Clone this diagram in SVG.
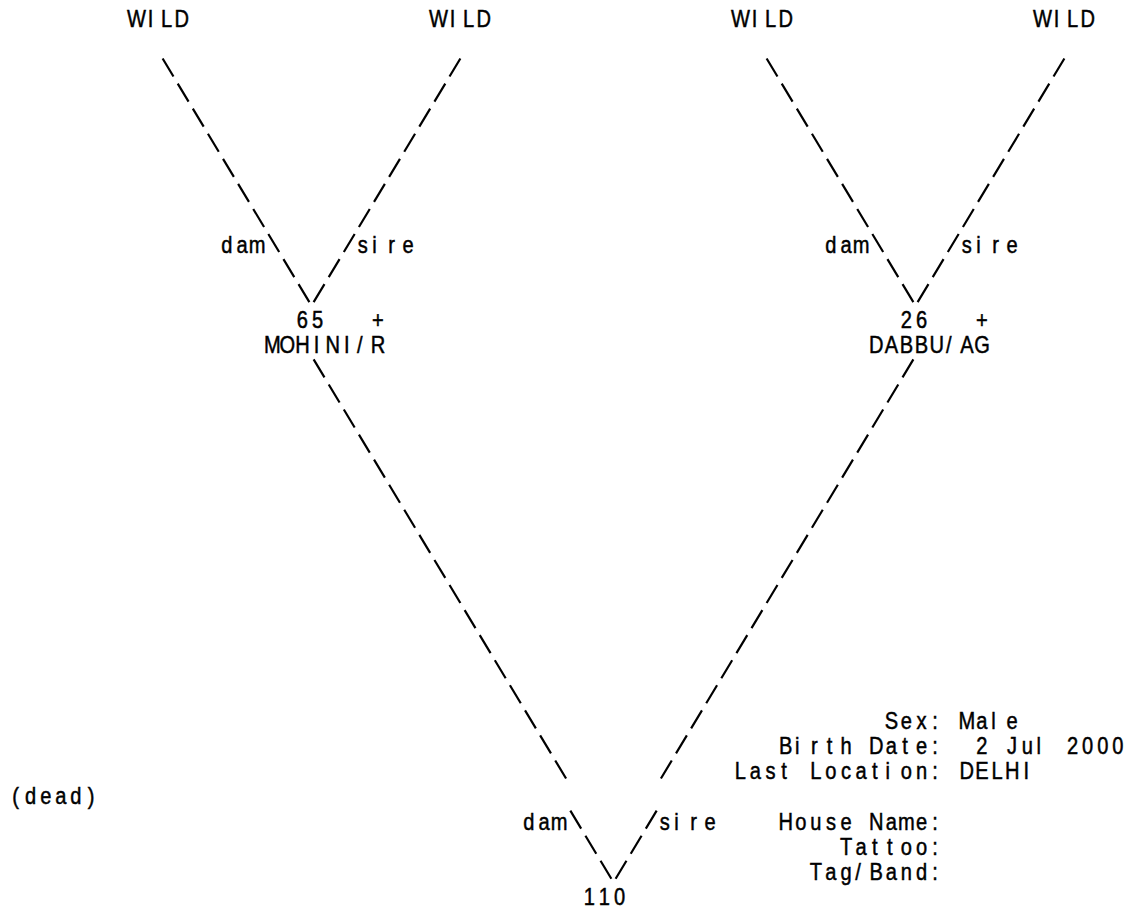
<svg xmlns="http://www.w3.org/2000/svg" width="1131" height="915" viewBox="0 0 1131 915">
<style>
text { font-family: "Liberation Sans", Arial, sans-serif; font-size: 24.5px; fill: #000; stroke: #000; stroke-width: 0.5px; text-anchor: middle; }
.c { fill: none; stroke: #000; stroke-width: 2.2; stroke-dasharray: 21 8.266; }
</style>
<rect width="1131" height="915" fill="#fff"/>
<g id="connectors">
<path class="c" d="M162.63 58.55 L309.37 302.16"/>
<path class="c" d="M460.37 58.55 L313.63 302.16"/>
<path class="c" d="M766.63 58.55 L913.37 302.16"/>
<path class="c" d="M1064.37 58.55 L917.63 302.16"/>
<path class="c" d="M313.63 359.39 L566.07 778.49"/>
<path class="c" d="M913.37 359.39 L660.93 778.49"/>
<path class="c" d="M570.33 810.65 L611.37 878.77"/>
<path class="c" d="M656.67 810.65 L615.63 878.77"/>
<text transform="translate(226.95 252.93) scale(0.82 1)" x="0 18.41 36.83">dam</text>
<text transform="translate(362.85 252.93) scale(0.82 1)" x="0 14.14 35.0 55.24">sire</text>
<text transform="translate(830.95 252.93) scale(0.82 1)" x="0 18.41 36.83">dam</text>
<text transform="translate(966.85 252.93) scale(0.82 1)" x="0 14.14 35.0 55.24">sire</text>
<text transform="translate(528.95 829.54) scale(0.82 1)" x="0 18.41 36.83">dam</text>
<text transform="translate(664.85 829.54) scale(0.82 1)" x="0 14.14 35.0 55.24">sire</text>
</g>
<g id="wild1"><text transform="translate(136.35 27.3) scale(0.82 1)" x="0 17.19 36.83 55.24">WILD</text></g>
<g id="wild2"><text transform="translate(438.35 27.3) scale(0.82 1)" x="0 17.19 36.83 55.24">WILD</text></g>
<g id="wild3"><text transform="translate(740.35 27.3) scale(0.82 1)" x="0 17.19 36.83 55.24">WILD</text></g>
<g id="wild4"><text transform="translate(1042.35 27.3) scale(0.82 1)" x="0 17.19 36.83 55.24">WILD</text></g>
<g id="node65">
<text transform="translate(302.45 328.14) scale(0.82 1)" x="0 18.41">65</text>
<text transform="translate(377.95 328.14) scale(0.82 1)" x="0">+</text>
<text transform="translate(272.25 353.21) scale(0.82 1)" x="0 18.41 36.83 54.02 73.66 90.85 106.83 128.90">MOHINI/R</text>
</g>
<g id="node26">
<text transform="translate(906.45 328.14) scale(0.82 1)" x="0 18.41">26</text>
<text transform="translate(981.95 328.14) scale(0.82 1)" x="0">+</text>
<text transform="translate(876.25 353.21) scale(0.82 1)" x="0 18.41 36.83 55.24 73.66 88.41 110.49 128.90">DABBU/AG</text>
</g>
<g id="node110">
<text transform="translate(589.35 904.75) scale(0.82 1)" x="0 18.41 36.83">110</text>
<text transform="translate(15.55 804.47) scale(0.82 1)" x="0 18.41 36.83 55.24 73.66 92.07">(dead)</text>
<text transform="translate(891.35 729.26) scale(0.82 1)" x="0 18.41 36.83 53.17">Sex:</text>
<text transform="translate(966.85 729.26) scale(0.82 1)" x="0 18.41 32.56 55.24">Male</text>
<text transform="translate(785.65 754.33) scale(0.82 1)" x="0 14.14 35.0 53.41 73.66 92.07 110.49 128.90 145.49 165.73 182.08">Birth Date:</text>
<text transform="translate(981.95 754.33) scale(0.82 1)" x="0 18.41 36.83 55.24 69.39 92.07 110.49 128.90 147.32 165.73">2 Jul 2000</text>
<text transform="translate(740.35 779.40) scale(0.82 1)" x="0 18.41 36.83 53.41 73.66 92.07 110.49 128.90 147.32 163.90 179.88 202.56 220.98 237.32">Last Location:</text>
<text transform="translate(966.85 779.40) scale(0.82 1)" x="0 18.41 36.83 55.24 72.44">DELHI</text>
<text transform="translate(785.65 829.54) scale(0.82 1)" x="0 18.41 36.83 55.24 73.66 92.07 110.49 128.90 147.32 165.73 182.08">House Name:</text>
<text transform="translate(846.05 854.61) scale(0.82 1)" x="0 18.41 35.0 53.41 73.66 92.07 108.42">Tattoo:</text>
<text transform="translate(815.85 879.68) scale(0.82 1)" x="0 18.41 36.83 51.58 73.66 92.07 110.49 128.90 145.25">Tag/Band:</text>
</g>
</svg>
